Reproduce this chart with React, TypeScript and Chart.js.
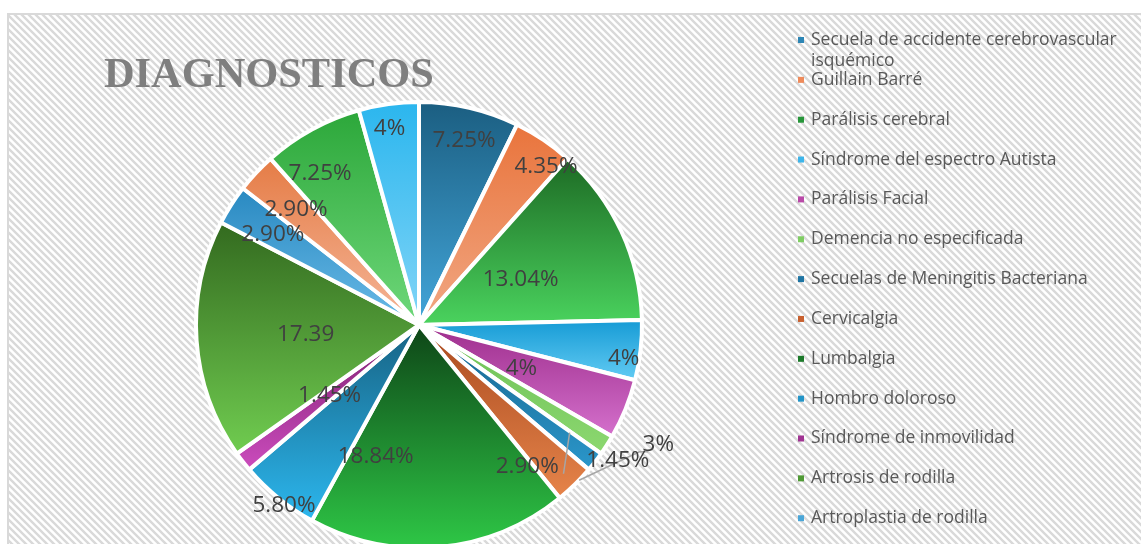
import React, { useEffect, useRef } from 'react';
import { Chart, registerables } from 'chart.js';

Chart.register(...registerables);

// ---------- data ----------
const chartTitle = 'DIAGNOSTICOS';

const categories = [
  'Secuela de accidente cerebrovascular isquémico',
  'Guillain Barré',
  'Parálisis cerebral',
  'Síndrome del espectro Autista',
  'Parálisis Facial',
  'Demencia no especificada',
  'Secuelas de Meningitis Bacteriana',
  'Cervicalgia',
  'Lumbalgia',
  'Hombro doloroso',
  'Síndrome de inmovilidad',
  'Artrosis de rodilla',
  'Artroplastia de rodilla',
  'Otro diagnóstico 1',
  'Otro diagnóstico 2',
  'Otro diagnóstico 3',
];

const percentValues = [
  7.25, 4.35, 13.04, 4.35, 4.35, 1.45, 1.45, 2.9, 18.84, 5.8, 1.45, 17.39, 2.9, 2.9, 7.25, 4.35,
];

const valueLabels = [
  '7.25%', '4.35%', '13.04%', '4%', '4%', '3%', '1.45%', '2.90%', '18.84%', '5.80%', '1.45%', '17.39', '2.90%', '2.90%', '7.25%', '4%',
];

// ---------- style ----------
const colorsTop = [
  '#1b5e81', '#e9743c', '#1d6a24', '#169bd5', '#9e2e8d', '#6cbf55', '#16638b', '#a94a1f',
  '#0e4517', '#176283', '#7e1f70', '#336a1f', '#2989c1', '#e57c46', '#2ca73a', '#2bb6ee',
];
const colorsBottom = [
  '#43a6da', '#f1a884', '#4ad35e', '#62cbf3', '#d470cc', '#8cd870', '#2b97cb', '#e6844a',
  '#2ec746', '#2cb7ee', '#cb4cbd', '#70cc50', '#6abbe8', '#f5b699', '#6fd87a', '#82d5f7',
];
const legendColors = [
  '#2d86b5', '#ee8b5b', '#27963a', '#3db5ea', '#b94aa8', '#7fcd63', '#1f75a3', '#c8602f',
  '#1c7a2a', '#2395c8', '#a03492', '#4f9a35', '#4aa6d8', '#ee9a70', '#4ec05a', '#56c6f3',
];
// label placement relative to each slice: fraction of radius, angular shift (deg)
const labelRadius = [0.85, 0.91, 0.5, 0.93, 0.5, 1.2, 1.08, 0.8, 0.62, 1.01, 0.51, 0.51, 0.77, 0.755, 0.81, 0.89];
const labelAngleShift = [0.7, 4.8, 0.6, 2.8, 1.1, -6.0, -3.5, 7.0, 23.5, -2.3, -0.4, -0.7, -0.9, 0.1, -4.5, -0.7];

const FONT_SANS = '"Open Sans", "Noto Sans", sans-serif';

export default function App() {
  const ref = useRef<HTMLCanvasElement>(null);

  useEffect(() => {
    const canvas = ref.current!;

    const backgroundPlugin = {
      id: 'bgHatch',
      beforeDraw(chart: any) {
        const ctx = chart.ctx as CanvasRenderingContext2D;
        const w = chart.width;
        const h = chart.height;
        ctx.save();
        ctx.fillStyle = '#ffffff';
        ctx.fillRect(0, 0, w, h);
        const tile = document.createElement('canvas');
        const T = 7;
        tile.width = T;
        tile.height = T;
        const tc = tile.getContext('2d')!;
        tc.fillStyle = '#ffffff';
        tc.fillRect(0, 0, T, T);
        tc.strokeStyle = '#d9d9d9';
        tc.lineWidth = 2.4;
        tc.beginPath();
        tc.moveTo(-2, -2);
        tc.lineTo(T + 2, T + 2);
        tc.moveTo(-2, T - 2);
        tc.lineTo(2, T + 2);
        tc.moveTo(T - 2, -2);
        tc.lineTo(T + 2, 2);
        tc.stroke();
        const pat = ctx.createPattern(tile, 'repeat')!;
        ctx.fillStyle = pat;
        ctx.fillRect(8, 14, w, h);
        ctx.strokeStyle = '#d9d9d9';
        ctx.lineWidth = 2;
        ctx.strokeRect(8, 14, w + 20, h + 20);
        ctx.restore();
      },
    };

    const gradientPlugin = {
      id: 'sliceGradient',
      beforeDatasetsDraw(chart: any) {
        const ctx = chart.ctx as CanvasRenderingContext2D;
        const meta = chart.getDatasetMeta(0);
        meta.data.forEach((el: any, i: number) => {
          const { x, y, startAngle, endAngle, outerRadius } = el;
          const ys = [y, y + outerRadius * Math.sin(startAngle), y + outerRadius * Math.sin(endAngle)];
          const TAU = Math.PI * 2;
          for (let k = -2; k <= 2; k++) {
            const up = -Math.PI / 2 + k * TAU;
            const down = Math.PI / 2 + k * TAU;
            if (up > startAngle && up < endAngle) ys.push(y - outerRadius);
            if (down > startAngle && down < endAngle) ys.push(y + outerRadius);
          }
          const top = Math.min(...ys);
          const bot = Math.max(...ys);
          const g = ctx.createLinearGradient(0, top, 0, bot);
          g.addColorStop(0, colorsTop[i]);
          g.addColorStop(1, colorsBottom[i]);
          el.options = { ...el.options, backgroundColor: g };
        });
      },
    };

    const labelPlugin = {
      id: 'sliceLabels',
      afterDatasetsDraw(chart: any) {
        const ctx = chart.ctx as CanvasRenderingContext2D;
        const meta = chart.getDatasetMeta(0);
        ctx.save();
        const polar = (el: any, shiftDeg: number, frac: number) => {
          const a = (el.startAngle + el.endAngle) / 2 + (shiftDeg * Math.PI) / 180;
          return [el.x + Math.cos(a) * el.outerRadius * frac, el.y + Math.sin(a) * el.outerRadius * frac];
        };
        ctx.strokeStyle = '#a6a6a6';
        ctx.lineWidth = 1.5;
        const e5 = meta.data[5];
        const e6 = meta.data[6];
        if (e5) {
          const p1 = polar(e5, 11.5, 1.0);
          const p2 = polar(e5, -2.7, 1.14);
          ctx.beginPath();
          ctx.moveTo(p1[0], p1[1]);
          ctx.lineTo(p2[0], p2[1]);
          ctx.lineTo(p2[0] + 9, p2[1]);
          ctx.stroke();
        }
        if (e6) {
          const p1 = polar(e6, -2.3, 0.83);
          const p2 = polar(e6, 8.0, 0.93);
          ctx.beginPath();
          ctx.moveTo(p1[0], p1[1]);
          ctx.lineTo(p2[0], p2[1]);
          ctx.stroke();
        }
        ctx.fillStyle = '#404040';
        ctx.font = `22.5px ${FONT_SANS}`;
        ctx.textAlign = 'center';
        ctx.textBaseline = 'middle';
        meta.data.forEach((el: any, i: number) => {
          const p = polar(el, labelAngleShift[i], labelRadius[i]);
          ctx.fillText(valueLabels[i], p[0], p[1]);
        });
        ctx.restore();
      },
    };

    const legendPlugin = {
      id: 'sideLegend',
      afterDraw(chart: any) {
        const ctx = chart.ctx as CanvasRenderingContext2D;
        const labels: string[] = chart.data.labels;
        ctx.save();
        ctx.font = `17.5px ${FONT_SANS}`;
        ctx.textBaseline = 'middle';
        ctx.textAlign = 'left';
        const x0 = 811;
        const maxW = 318;
        labels.forEach((lab, i) => {
          const cy = 40 + 39.85 * i;
          ctx.fillStyle = legendColors[i];
          ctx.fillRect(798, cy - 3, 6, 6);
          ctx.fillStyle = '#595959';
          const words = lab.split(' ');
          const lines: string[] = [];
          let cur = '';
          words.forEach((w) => {
            const t = cur ? cur + ' ' + w : w;
            if (ctx.measureText(t).width > maxW && cur) {
              lines.push(cur);
              cur = w;
            } else cur = t;
          });
          if (cur) lines.push(cur);
          lines.forEach((ln, k) => ctx.fillText(ln, x0, cy + k * 21));
        });
        ctx.restore();
      },
    };

    const titlePlugin = {
      id: 'bigTitle',
      afterDraw(chart: any) {
        const ctx = chart.ctx as CanvasRenderingContext2D;
        ctx.save();
        ctx.font = 'bold 42.4px "Liberation Serif", "DejaVu Serif", serif';
        ctx.fillStyle = '#7f7f7f';
        ctx.textAlign = 'left';
        ctx.textBaseline = 'alphabetic';
        ctx.fillText(chartTitle, 104, 87);
        ctx.restore();
      },
    };

    const chart = new Chart(canvas, {
      type: 'pie',
      data: {
        labels: categories,
        datasets: [
          {
            data: percentValues,
            backgroundColor: legendColors,
            borderColor: '#ffffff',
            borderWidth: 4,
            hoverOffset: 0,
            offset: 0,
          } as any,
        ],
      },
      options: {
        responsive: false,
        animation: false,
        devicePixelRatio: 1,
        events: [],
        layout: { padding: { left: 194, top: 100, right: 497, bottom: 50 } },
        plugins: {
          legend: { display: false },
          title: { display: false },
          tooltip: { enabled: false },
        },
      } as any,
      plugins: [backgroundPlugin, gradientPlugin, labelPlugin, titlePlugin, legendPlugin],
    });

    return () => chart.destroy();
  }, []);

  return (
    <div
      style={{
        position: 'fixed',
        left: 0,
        top: 0,
        width: 1141,
        height: 544,
        overflow: 'hidden',
        background: '#ffffff',
      }}
    >
      <canvas ref={ref} width={1141} height={600} style={{ display: 'block', width: 1141, height: 600 }} />
    </div>
  );
}
